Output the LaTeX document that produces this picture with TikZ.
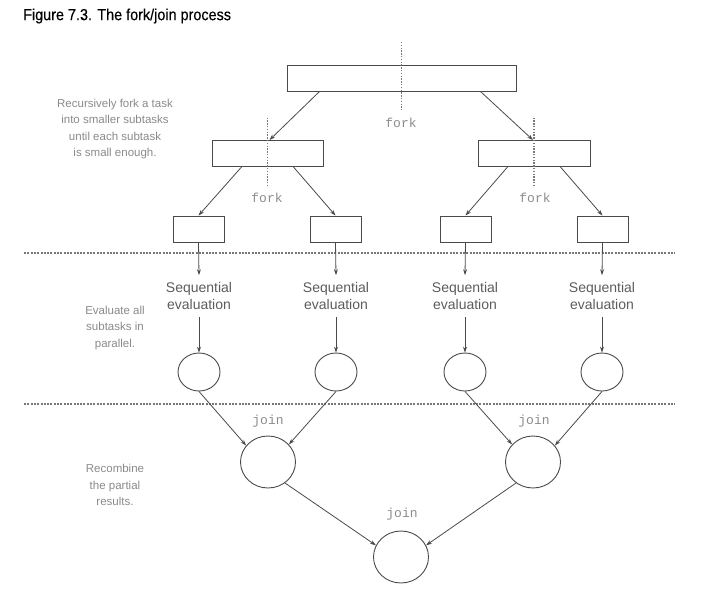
\documentclass[tikz,border=0pt]{standalone}
\usepackage{fontspec}
\setmainfont{Liberation Sans}
\newfontfamily\titlefont[FakeStretch=0.9,FakeBold=0.4]{Liberation Sans}
\newfontfamily\codefont{Liberation Mono}
\usetikzlibrary{arrows.meta,shapes.geometric}
\definecolor{ln}{HTML}{4A4A4A}
\definecolor{gtxt}{HTML}{8A8A8A}
\definecolor{ctxt}{HTML}{8C8C8C}
\tikzset{
  box/.style={draw=ln, line width=0.9pt, rectangle, inner sep=0pt, minimum height=26pt},
  leaf/.style={box, minimum width=51pt},
  ring/.style={draw=ln, line width=0.9pt, ellipse, inner sep=0pt, minimum width=42pt, minimum height=38pt},
  bigring/.style={draw=ln, line width=0.9pt, ellipse, inner sep=0pt, minimum width=55pt, minimum height=52pt},
  conn/.style={draw=ln, line width=0.8pt, -{Stealth[length=6pt,width=4pt]}},
  seqtxt/.style={align=center, font=\fontsize{14}{17}\selectfont, text=ln!90, inner xsep=0pt, inner ysep=7pt},
  note/.style={align=center, font=\fontsize{11.5}{16.5}\selectfont, text=gtxt, inner sep=0pt},
  code/.style={font=\codefont\fontsize{13}{13}\selectfont, text=ctxt, inner sep=0pt},
  dotline/.style={draw=ln!75, line width=1.1pt, dash pattern=on 1.4pt off 1.4pt},
  sepline/.style={draw=ln!75, line width=1.2pt, dash pattern=on 2pt off 1.3pt}
}
\begin{document}
\begin{tikzpicture}[x=1pt,y=-1pt]
\useasboundingbox (0,0) rectangle (712,600);
\node[anchor=west, inner sep=0pt, font=\titlefont\fontsize{16}{17}\selectfont] (title) at (23,16) {Figure 7.3. The fork/join process};

% boxes
\node[box, minimum width=229pt] (top) at (401.5,78) {};
\node[box, minimum width=111pt] (lm) at (267.5,153.5) {};
\node[box, minimum width=112pt] (rm) at (534,153.5) {};
\node[leaf] (s1) at (198.5,229) {};
\node[leaf] (s2) at (335.5,229) {};
\node[leaf] (s3) at (465.5,229) {};
\node[leaf] (s4) at (602.5,229) {};

% split markers
\draw[dotline] (top.center) ++(0,-36) -- ++(0,68);
\draw[dotline] (lm.center) ++(0,-36) -- ++(0,69);
\draw[dotline] (rm.center) ++(0,-36) -- ++(0,69);
\node[code] (f1) at (401,123) {fork};
\node[code] (f2) at (267,198) {fork};
\node[code] (f3) at (535,198) {fork};

% separators
\coordinate (sepAl) at (24,253);
\coordinate (sepAr) at (675,253);
\coordinate (sepBl) at (24,404);
\coordinate (sepBr) at (675,404);
\draw[sepline] (sepAl) -- (sepAr);
\draw[sepline] (sepBl) -- (sepBr);

% sequential evaluation
\node[seqtxt] (q1) at (199,296) {Sequential\\evaluation};
\node[seqtxt] (q2) at (336,296) {Sequential\\evaluation};
\node[seqtxt] (q3) at (465,296) {Sequential\\evaluation};
\node[seqtxt] (q4) at (602,296) {Sequential\\evaluation};

% circles
\node[ring] (c1) at (199,372) {};
\node[ring] (c2) at (336,372) {};
\node[ring] (c3) at (465,372) {};
\node[ring] (c4) at (602,372) {};
\node[bigring] (j1) at (268,462) {};
\node[bigring] (j2) at (533,462) {};
\node[bigring] (b) at (401,557) {};
\node[code] (jl1) at (268,421) {join};
\node[code] (jl2) at (534,421) {join};
\node[code] (jl3) at (402,514) {join};

% notes
\node[note] (n1) at (115,129) {Recursively fork a task\\into smaller subtasks\\until each subtask\\is small enough.};
\node[note] (n2) at (115,328) {Evaluate all\\subtasks in\\parallel.};
\node[note] (n3) at (115,485) {Recombine\\the partial\\results.};

% connectors
\draw[conn] ([xshift=33pt]top.south west) -- ([xshift=2pt]lm.north);
\draw[conn] ([xshift=-36pt]top.south east) -- ([xshift=-1pt]rm.north);
\draw[conn] ([xshift=30pt]lm.south west) -- (s1.north);
\draw[conn] ([xshift=-30pt]lm.south east) -- (s2.north);
\draw[conn] ([xshift=30pt]rm.south west) -- (s3.north);
\draw[conn] ([xshift=-30pt]rm.south east) -- (s4.north);
\foreach \i in {1,2,3,4}{
  \draw[conn] (s\i.south) -- (q\i.north);
  \draw[conn] (q\i.south) -- (c\i.north);
}
\draw[conn] (c1.south) -- (j1.143);
\draw[conn] (c2.south) -- (j1.40);
\draw[conn] (c3.south) -- (j2.140);
\draw[conn] (c4.south) -- (j2.37);
\draw[conn] (j1.-51) -- (b.155);
\draw[conn] (j2.-129) -- (b.25);
\end{tikzpicture}
\end{document}
